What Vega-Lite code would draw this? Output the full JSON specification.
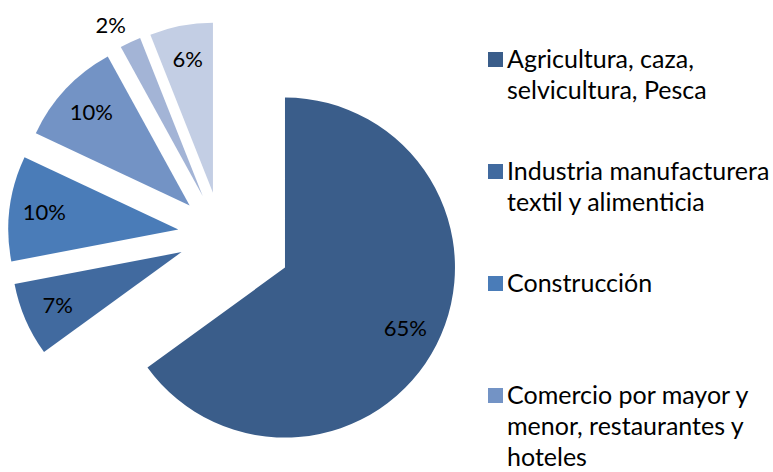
{
  "$schema": "https://vega.github.io/schema/vega-lite/v6.json",
  "width": 773,
  "height": 472,
  "autosize": "none",
  "padding": 0,
  "background": "white",
  "config": {"view": {"stroke": null}},
  "data": {
    "values": [
      {"sector": "Agricultura, caza, selvicultura, Pesca", "orden": 1, "valor": 65},
      {"sector": "Industria manufacturera textil y alimenticia", "orden": 2, "valor": 7},
      {"sector": "Construcción", "orden": 3, "valor": 10},
      {"sector": "Comercio por mayor y menor, restaurantes y hoteles", "orden": 4, "valor": 10},
      {"sector": "Transporte, almacenamiento y comunicaciones", "orden": 5, "valor": 2},
      {"sector": "Otros servicios", "orden": 6, "valor": 6}
    ]
  },
  "transform": [
    {"window": [{"op": "sum", "field": "valor", "as": "fin"}], "sort": [{"field": "orden"}], "frame": [null, 0]},
    {"calculate": "datum.fin - datum.valor", "as": "inicio"},
    {"calculate": "(datum.inicio + datum.fin) / 2", "as": "medio"},
    {"calculate": "datum.orden == 1 ? 1.67 : 1", "as": "explosion"},
    {"calculate": "datum.explosion * sin(datum.medio / 100 * 2 * PI)", "as": "ux"},
    {"calculate": "-datum.explosion * cos(datum.medio / 100 * 2 * PI)", "as": "uy"},
    {"calculate": "datum.valor + '%'", "as": "etiqueta"}
  ],
  "encoding": {
    "x": {"field": "ux", "type": "quantitative", "scale": {"domain": [-1, 1], "range": [178, 264]}, "axis": null},
    "y": {"field": "uy", "type": "quantitative", "scale": {"domain": [-1, 1], "range": [192, 278]}, "axis": null}
  },
  "layer": [
    {
      "mark": {"type": "arc", "radius": 170},
      "encoding": {
        "theta": {"field": "inicio", "type": "quantitative", "scale": {"domain": [0, 100], "range": [0, 6.283185307]}, "stack": null},
        "theta2": {"field": "fin"},
        "color": {
          "field": "sector",
          "type": "nominal",
          "scale": {
            "domain": [
              "Agricultura, caza, selvicultura, Pesca",
              "Industria manufacturera textil y alimenticia",
              "Construcción",
              "Comercio por mayor y menor, restaurantes y hoteles",
              "Transporte, almacenamiento y comunicaciones",
              "Otros servicios"
            ],
            "range": ["#3A5D8A", "#416A9F", "#4A7CB8", "#7393C5", "#A3B4D6", "#C3CEE4"]
          },
          "legend": {
            "orient": "none",
            "legendX": 483,
            "legendY": 47,
            "title": null,
            "symbolType": "square",
            "symbolSize": 225,
            "symbolStrokeWidth": 0,
            "labelFont": "Lato",
            "labelFontSize": 25,
            "labelColor": "black",
            "labelLimit": 400,
            "labelOffset": -1,
            "labelBaseline": "alphabetic",
            "gridAlign": "all",
            "rowPadding": 24,
            "labelExpr": "datum.value == 'Agricultura, caza, selvicultura, Pesca' ? ['Agricultura, caza,', 'selvicultura, Pesca'] : datum.value == 'Industria manufacturera textil y alimenticia' ? ['Industria manufacturera', 'textil y alimenticia'] : datum.value == 'Comercio por mayor y menor, restaurantes y hoteles' ? ['Comercio por mayor y', 'menor, restaurantes y', 'hoteles'] : datum.value == 'Transporte, almacenamiento y comunicaciones' ? ['Transporte,', 'almacenamiento y', 'comunicaciones'] : datum.label",
            "encode": {"labels": {"update": {"lineHeight": {"value": 31}, "dy": {"value": 8}}}}
          }
        }
      }
    },
    {
      "transform": [{"filter": "datum.valor > 2"}],
      "mark": {"type": "text", "font": "Lato", "fontSize": 22, "color": "black", "radius": 135},
      "encoding": {
        "theta": {"field": "medio", "type": "quantitative", "scale": {"domain": [0, 100], "range": [0, 6.283185307]}, "stack": null},
        "text": {"field": "etiqueta", "type": "nominal"}
      }
    },
    {
      "transform": [{"filter": "datum.valor <= 2"}],
      "mark": {"type": "text", "font": "Lato", "fontSize": 22, "color": "black", "radius": 188, "dx": -12},
      "encoding": {
        "theta": {"field": "medio", "type": "quantitative", "scale": {"domain": [0, 100], "range": [0, 6.283185307]}, "stack": null},
        "text": {"field": "etiqueta", "type": "nominal"}
      }
    }
  ]
}
